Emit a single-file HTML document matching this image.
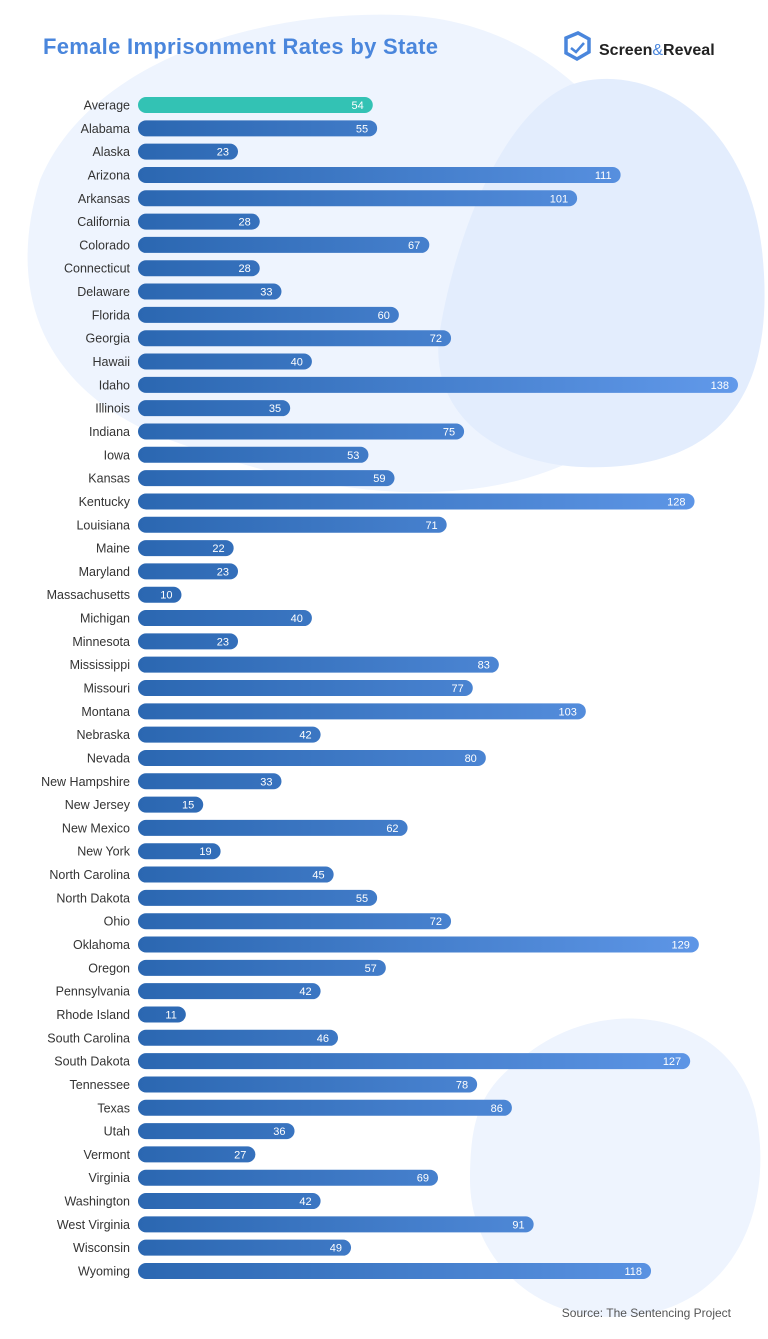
<!DOCTYPE html>
<html><head><meta charset="utf-8"><style>
html,body{margin:0;padding:0;background:#fff}
svg{display:block}
text{font-family:"Liberation Sans",sans-serif}
</style></head><body>
<svg id="chart" width="768" height="1339" viewBox="0 0 768 1339" xmlns="http://www.w3.org/2000/svg">
<defs>
<linearGradient id="barGrad" gradientUnits="userSpaceOnUse" x1="138" y1="0" x2="738" y2="0">
<stop offset="0" stop-color="#2b67b1"/><stop offset="1" stop-color="#6199ea"/></linearGradient>
</defs>
<g>
<path d="M40 180 C90 60 260 10 400 15 C540 20 640 120 670 250 C700 380 630 450 520 480 C400 510 280 480 170 440 C60 400 0 310 40 180Z" fill="#eef4fe"/>
<path d="M570 85 C640 60 745 110 762 250 C775 370 740 450 630 465 C510 480 425 420 440 330 C455 240 500 115 570 85Z" fill="#e3edfd"/>
<path d="M520 1060 C600 990 730 1010 755 1110 C775 1200 740 1300 640 1315 C540 1330 470 1260 470 1180 C470 1120 480 1090 520 1060Z" fill="#eef4fe"/>
</g>
<text x="43" y="54" font-size="22" font-weight="bold" letter-spacing="0.3" fill="#4a86dc">Female Imprisonment Rates by State</text>
<g>
<path d="M566 38 L578 33 L589 39 L589 52 L577 59 L566 53 Z" fill="none" stroke="#4a86dc" stroke-width="3.5"/>
<path d="M571 48 L576 52 L584 43" fill="none" stroke="#4a86dc" stroke-width="2.5"/>
<text x="599" y="55" font-size="16" font-weight="bold" fill="#222">Screen<tspan fill="#4a86dc" font-weight="normal">&amp;</tspan>Reveal</text>
</g>
<g id="bars"></g>
<text x="731" y="1317" font-size="12" fill="#555" text-anchor="end">Source: The Sentencing Project</text>
</svg>
<script>
const categories=["Average","Alabama","Alaska","Arizona","Arkansas","California","Colorado","Connecticut","Delaware","Florida","Georgia","Hawaii","Idaho","Illinois","Indiana","Iowa","Kansas","Kentucky","Louisiana","Maine","Maryland","Massachusetts","Michigan","Minnesota","Mississippi","Missouri","Montana","Nebraska","Nevada","New Hampshire","New Jersey","New Mexico","New York","North Carolina","North Dakota","Ohio","Oklahoma","Oregon","Pennsylvania","Rhode Island","South Carolina","South Dakota","Tennessee","Texas","Utah","Vermont","Virginia","Washington","West Virginia","Wisconsin","Wyoming"];
const values=[54,55,23,111,101,28,67,28,33,60,72,40,138,35,75,53,59,128,71,22,23,10,40,23,83,77,103,42,80,33,15,62,19,45,55,72,129,57,42,11,46,127,78,86,36,27,69,42,91,49,118];
const x0=138,x1=738,maxV=138;
const xScale=v=>x0+(x1-x0)*v/maxV;
const yTop=105,yBot=1271;
const yScale=i=>yTop+(yBot-yTop)*i/(categories.length-1);
const g=document.getElementById('bars');
const NS="http://www.w3.org/2000/svg";
categories.forEach((c,i)=>{
 const y=yScale(i),xe=xScale(values[i]);
 const lab=document.createElementNS(NS,'text');
 
 
 lab.setAttribute('x',130);lab.setAttribute('y',y+4.5);lab.setAttribute('text-anchor','end');
 lab.setAttribute('font-size','12.5');lab.setAttribute('fill','#333');lab.textContent=c;g.appendChild(lab);
 const r=document.createElementNS(NS,'rect');
 
 
 r.setAttribute('x',x0);r.setAttribute('y',y-8);r.setAttribute('width',xe-x0);r.setAttribute('height',16);
 r.setAttribute('rx',8);r.setAttribute('fill',i===0?'#33c2b4':'url(#barGrad)');g.appendChild(r);
 const v=document.createElementNS(NS,'text');
 
 
 v.setAttribute('x',xe-9);v.setAttribute('y',y+4);v.setAttribute('text-anchor','end');
 v.setAttribute('font-size','11');v.setAttribute('fill','#fff');v.textContent=values[i];g.appendChild(v);
});
</script>
</body></html>
